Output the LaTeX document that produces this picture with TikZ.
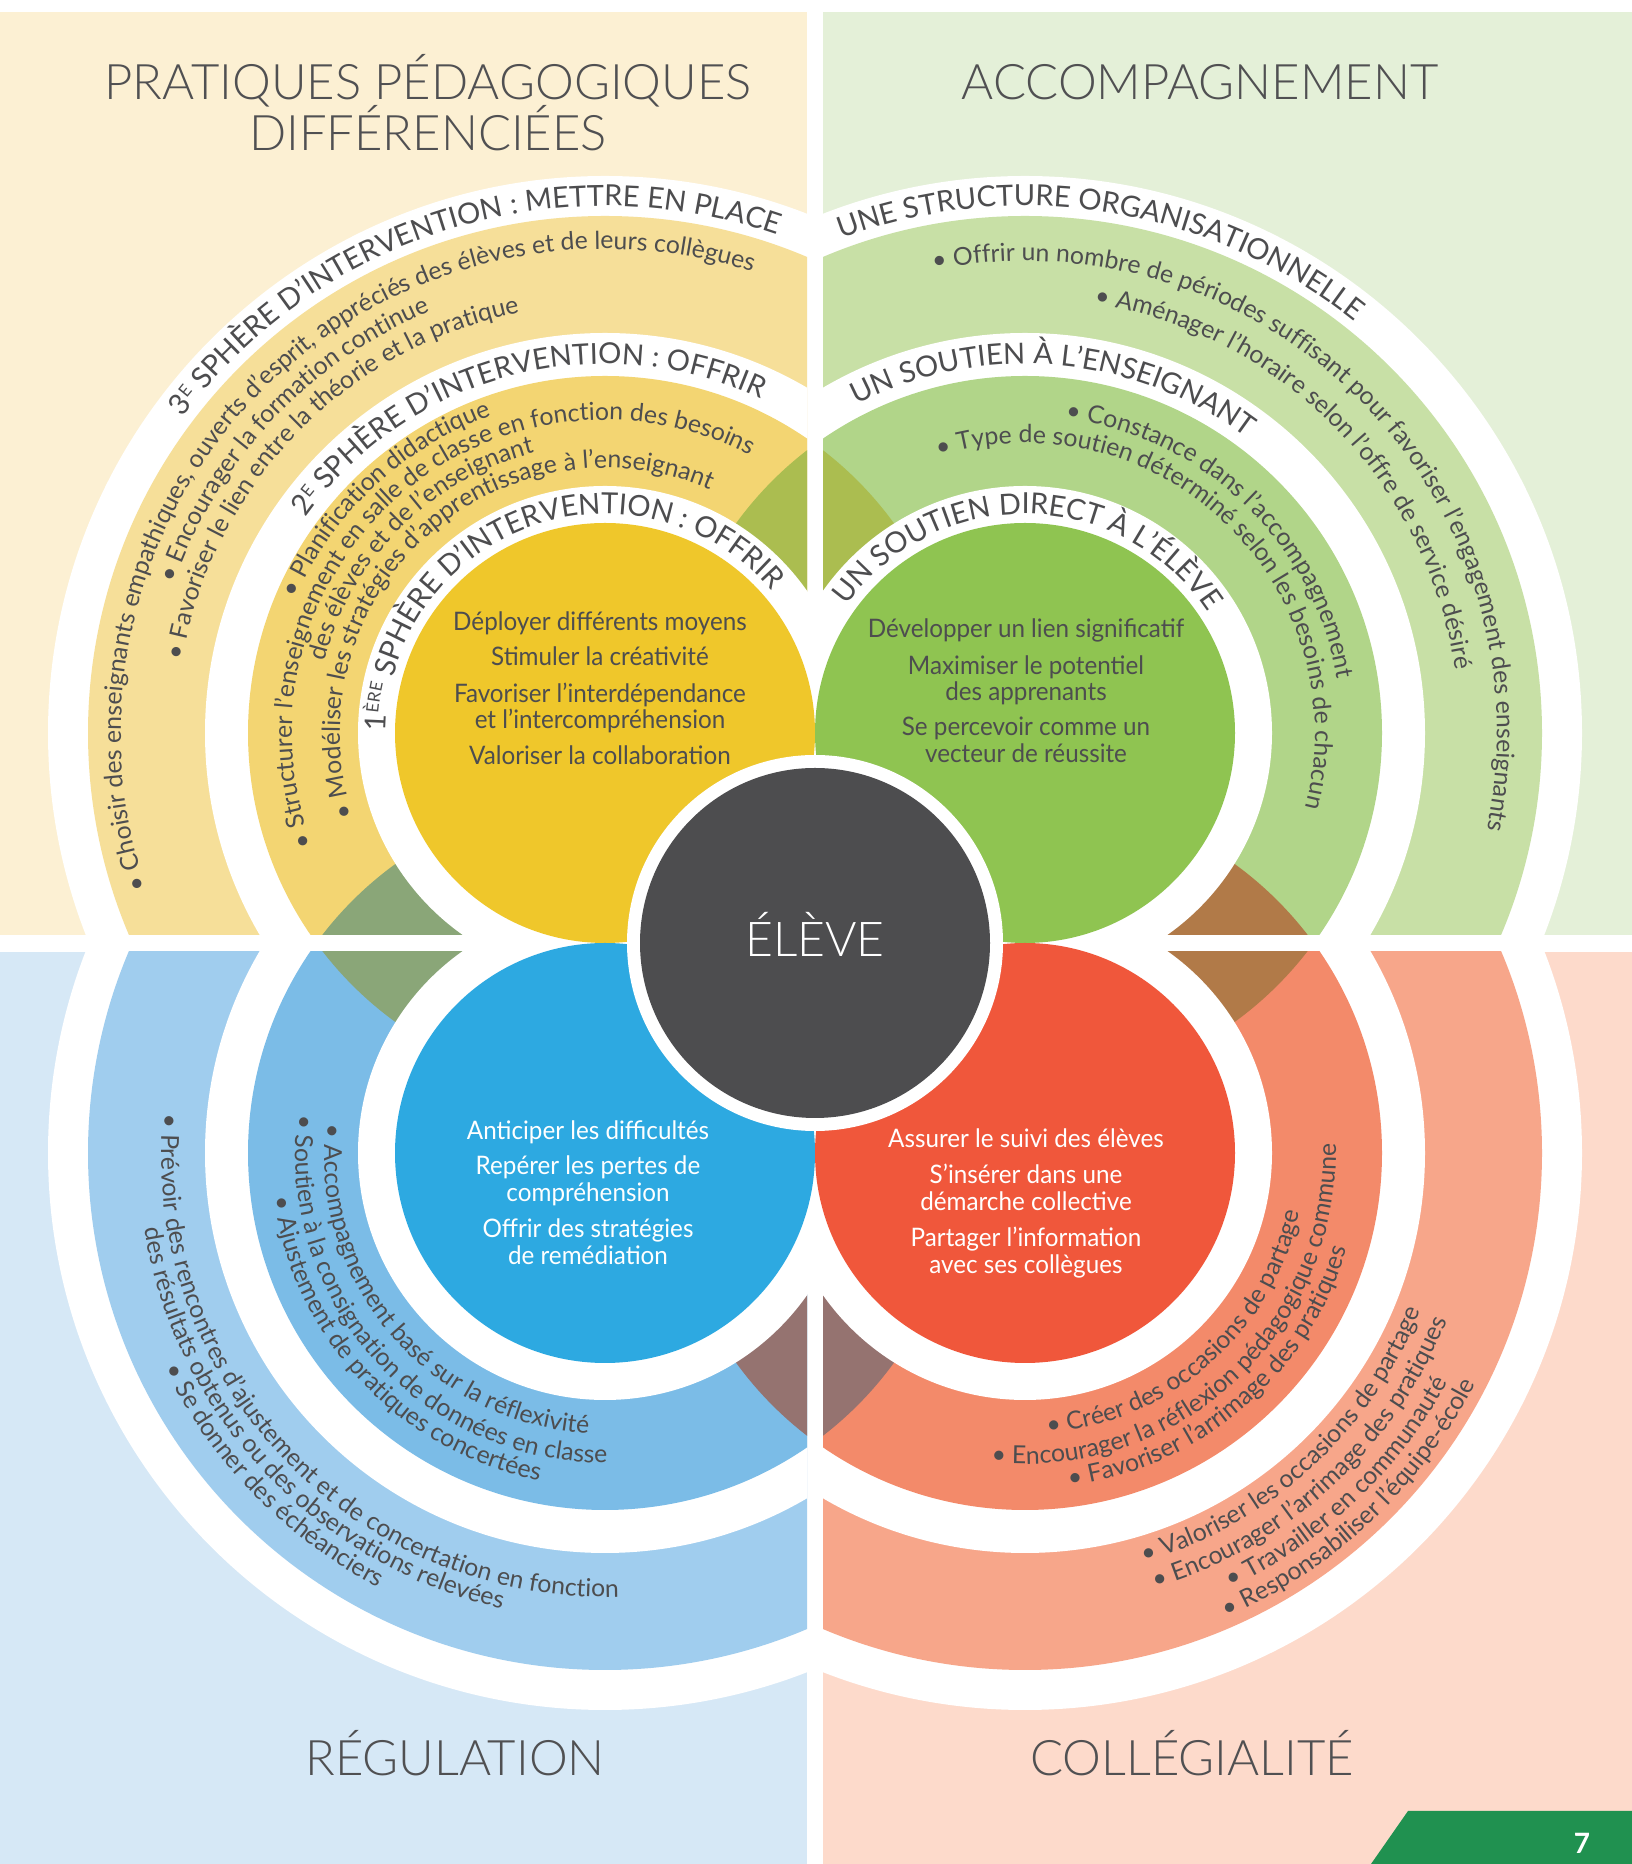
\documentclass[tikz,border=0pt]{standalone}
\usepackage{fontspec}
\setmainfont{Lato}
\newfontfamily\lightfont{Lato Light}
\newfontfamily\condfont{Lato}[FakeStretch=0.95]
\usetikzlibrary{decorations.text,calc}
\definecolor{tlbg}{HTML}{FCF0D3}
\definecolor{tlthree}{HTML}{F6DF99}
\definecolor{tltwo}{HTML}{F3D572}
\definecolor{tlc}{HTML}{EFC72B}
\definecolor{trbg}{HTML}{E4F0D8}
\definecolor{trthree}{HTML}{C8E0A6}
\definecolor{trtwo}{HTML}{B1D589}
\definecolor{trc}{HTML}{8FC451}
\definecolor{blbg}{HTML}{D6E8F6}
\definecolor{blthree}{HTML}{A0CDEE}
\definecolor{bltwo}{HTML}{7BBCE7}
\definecolor{blc}{HTML}{2DA9E1}
\definecolor{brbg}{HTML}{FDDACB}
\definecolor{brthree}{HTML}{F7A68A}
\definecolor{brtwo}{HTML}{F38A6A}
\definecolor{brc}{HTML}{F0573B}
\definecolor{lensT}{HTML}{ABBD50}
\definecolor{lensL}{HTML}{8AA678}
\definecolor{lensR}{HTML}{B17A48}
\definecolor{lensB}{HTML}{957370}
\definecolor{dark}{HTML}{4D4D4F}
\definecolor{txt}{HTML}{4D4D4F}
\definecolor{ttl}{HTML}{505052}
\definecolor{tabgreen}{HTML}{209150}
\newcommand\sm{\fontsize{17}{17}\selectfont\color{txt}}
\newcommand\nm{\fontsize{29}{29}\selectfont\color{txt}}
\newlength\wdig
\newlength\wE
\newlength\wERE
\newlength\wsum
% clockwise arc text (letters outward)
\newcommand\cwtext[5]{%
  \pgfmathsetmacro\angA{#3+85}%
  \pgfmathsetmacro\angB{#3-85}%
  \path[color=txt,decorate,decoration={text along path,text align=center,
    text={|\fontsize{#4}{#4}\selectfont\color{txt}|#5}}]
    ($(#1)+(\angA:#2pt)$) arc[start angle=\angA,end angle=\angB,radius=#2pt];}
% counter-clockwise arc text (letters inward)
\newcommand\ccwtext[5]{%
  \pgfmathsetmacro\angA{#3-85}%
  \pgfmathsetmacro\angB{#3+85}%
  \path[color=txt,decorate,decoration={text along path,text align=center,
    text={|\fontsize{#4}{#4}\selectfont\color{txt}|#5}}]
    ($(#1)+(\angA:#2pt)$) arc[start angle=\angA,end angle=\angB,radius=#2pt];}
% sphere title: #1 centre #2 radius #3 start angle #4 first #5 raised #6 rest #7 width first #8 width raised
\newcommand\sphtext[8]{%
  \setlength\wsum{#7}\addtolength\wsum{#8}%
  \pgfmathsetmacro\angE{#3-deg(#7/#2)}%
  \pgfmathsetmacro\angR{#3-deg(\wsum/#2)}%
  \pgfmathsetmacro\angB{#3-170}%
  \path[color=txt,decorate,decoration={text along path,
    text={|\nm|#4}}] ($(#1)+(#3:#2pt)$) arc[start angle=#3,end angle=\angB,radius=#2pt];
  \path[color=txt,decorate,decoration={text along path,raise=8.6pt,
    text={|\sm|#5}}] ($(#1)+(\angE:#2pt)$) arc[start angle=\angE,end angle=\angB,radius=#2pt];
  \path[color=txt,decorate,decoration={text along path,
    text={|\nm|#6}}] ($(#1)+(\angR:#2pt)$) arc[start angle=\angR,end angle=\angB,radius=#2pt];}
\newcommand\drawquad[9]{%
  \begin{scope}
    \clip #1;
    \fill[#3] #1;
    \fill[white] (#2) circle (557pt);
    \fill[#4] (#2) circle (517pt);
    \fill[white] (#2) circle (400pt);
    \fill[#5] (#2) circle (357pt);
    \begin{scope}\clip (#6) circle (357pt); \fill[#7] (#2) circle (357pt);\end{scope}
    \begin{scope}\clip (#8) circle (357pt); \fill[#9] (#2) circle (357pt);\end{scope}
  \end{scope}}
\tikzset{
  inner/.style={anchor=base,inner sep=0pt,font=\condfont\fontsize{25.5}{25.5}\selectfont},
  qtitle/.style={anchor=base,inner sep=0pt,text=ttl,font=\lightfont\fontsize{49}{49}\selectfont},
}
\begin{document}
\settowidth\wdig{\fontsize{29}{29}\selectfont 3}%
\settowidth\wE{\fontsize{17}{17}\selectfont E}%
\settowidth\wERE{\fontsize{17}{17}\selectfont ÈRE}%
\begin{tikzpicture}[x=1pt,y=1pt]
\useasboundingbox (0,0) rectangle (1632,1864);
\fill[white] (0,0) rectangle (1632,1864);
\coordinate (TL) at (605,1131);
\coordinate (TR) at (1025,1131);
\coordinate (BL) at (605,711);
\coordinate (BR) at (1025,711);
\coordinate (C) at (815,921);

\drawquad{(0,929) rectangle (807,1852)}{TL}{tlbg}{tlthree}{tltwo}{TR}{lensT}{BL}{lensL}
\drawquad{(823,929) rectangle (1632,1852)}{TR}{trbg}{trthree}{trtwo}{TL}{lensT}{BR}{lensR}
\drawquad{(0,0) rectangle (807,912)}{BL}{blbg}{blthree}{bltwo}{BR}{lensB}{TL}{lensL}
\drawquad{(823,0) rectangle (1632,912)}{BR}{brbg}{brthree}{brtwo}{BL}{lensB}{TR}{lensR}

\foreach \c in {TL,TR,BL,BR} \fill[white] (\c) circle (247pt);
\fill[tlc] (TL) circle (210pt);
\fill[trc] (TR) circle (210pt);
\fill[blc] (BL) circle (210pt);
\fill[brc] (BR) circle (210pt);
\fill[white] (C) circle (188pt);
\fill[dark] (C) circle (175pt);
\node[anchor=base,inner sep=0pt,text=white,font=\lightfont\fontsize{48}{48}\selectfont] (eleve) at (815,907) {ÉLÈVE};

% page tab
\fill[tabgreen] (1371,0) -- (1408,53) -- (1632,53) -- (1632,0) -- cycle;
\node[text=white,font=\bfseries\fontsize{28}{28}\selectfont] (page) at (1582,21) {7};

% quadrant titles
\node[qtitle] (t1a) at (428,1764) {PRATIQUES PÉDAGOGIQUES};
\node[qtitle] (t1b) at (428,1713) {DIFFÉRENCIÉES};
\node[qtitle] (t2) at (1200,1764) {ACCOMPAGNEMENT};
\node[qtitle] (t3) at (455,88) {RÉGULATION};
\node[qtitle] (t4) at (1192,88) {COLLÉGIALITÉ};

% inner circle texts
\node[inner,text=txt] (a1) at (600,1233) {Déployer différents moyens};
\node[inner,text=txt] (a2) at (600,1198) {Stimuler la créativité};
\node[inner,text=txt] (a3) at (600,1161) {Favoriser l’interdépendance};
\node[inner,text=txt] (a4) at (600,1135) {et l’intercompréhension};
\node[inner,text=txt] (a5) at (600,1099) {Valoriser la collaboration};

\node[inner,text=txt] (b1) at (1026,1226) {Développer un lien significatif};
\node[inner,text=txt] (b2) at (1026,1189) {Maximiser le potentiel};
\node[inner,text=txt] (b3) at (1026,1163) {des apprenants};
\node[inner,text=txt] (b4) at (1026,1128) {Se percevoir comme un};
\node[inner,text=txt] (b5) at (1026,1101) {vecteur de réussite};

\node[inner,text=white] (c1) at (588,724) {Anticiper les difficultés};
\node[inner,text=white] (c2) at (588,689) {Repérer les pertes de};
\node[inner,text=white] (c3) at (588,662) {compréhension};
\node[inner,text=white] (c4) at (588,626) {Offrir des stratégies};
\node[inner,text=white] (c5) at (588,599) {de remédiation};

\node[inner,text=white] (d1) at (1026,716) {Assurer le suivi des élèves};
\node[inner,text=white] (d2) at (1026,680) {S’insérer dans une};
\node[inner,text=white] (d3) at (1026,653) {démarche collective};
\node[inner,text=white] (d4) at (1026,617) {Partager l’information};
\node[inner,text=white] (d5) at (1026,590) {avec ses collègues};

% TL curved texts
\sphtext{TL}{527}{143.2}{3}{E}{ SPHÈRE D’INTERVENTION : METTRE EN PLACE}{\wdig}{\wE}
\cwtext{TL}{484}{135.5}{24.8}{• Choisir des enseignants empathiques, ouverts d’esprit, appréciés des élèves et de leurs collègues}
\cwtext{TL}{456}{136.7}{24.8}{• Encourager la formation continue}
\cwtext{TL}{429}{135.9}{24.8}{• Favoriser le lien entre la théorie et la pratique}
\sphtext{TL}{369}{144.3}{2}{E}{ SPHÈRE D’INTERVENTION : OFFRIR}{\wdig}{\wE}
\cwtext{TL}{337}{133.1}{24.8}{• Planification didactique}
\cwtext{TL}{313}{131.75}{24.8}{• Structurer l’enseignement en salle de classe en fonction des besoins}
\cwtext{TL}{289}{134.9}{24.8}{des élèves et de l’enseignant}
\cwtext{TL}{265}{132.5}{24.8}{• Modéliser les stratégies d’apprentissage à l’enseignant}
\sphtext{TL}{219}{179.5}{1}{ÈRE}{ SPHÈRE D’INTERVENTION : OFFRIR}{\wdig}{\wERE}

% TR curved texts
\cwtext{TR}{527}{80.85}{29}{UNE STRUCTURE ORGANISATIONNELLE}
\cwtext{TR}{472}{44.65}{24.8}{• Offrir un nombre de périodes suffisant pour favoriser l’engagement des enseignants}
\cwtext{TR}{435}{44.6}{24.8}{• Aménager l’horaire selon l’offre de service désiré}
\cwtext{TR}{369}{85.1}{29}{UN SOUTIEN À L’ENSEIGNANT}
\cwtext{TR}{317}{46.25}{24.8}{• Constance dans l’accompagnement}
\cwtext{TR}{290}{46.25}{24.8}{• Type de soutien déterminé selon les besoins de chacun}
\cwtext{TR}{219}{88.95}{29}{UN SOUTIEN DIRECT À L’ÉLÈVE}

% BL curved texts
\ccwtext{BL}{444}{223.3}{24.8}{• Prévoir des rencontres d’ajustement et de concertation en fonction}
\ccwtext{BL}{467}{223.3}{24.8}{des résultats obtenus ou des observations relevées}
\ccwtext{BL}{490}{224.3}{24.8}{• Se donner des échéanciers}
\ccwtext{BL}{281}{220.35}{24.8}{• Accompagnement basé sur la réflexivité}
\ccwtext{BL}{310}{221.6}{24.8}{• Soutien à la consignation de données en classe}
\ccwtext{BL}{334}{223.2}{24.8}{• Ajustement de pratiques concertées}

% BR curved texts
\ccwtext{BR}{281}{311.2}{24.8}{• Créer des occasions de partage}
\ccwtext{BR}{311}{312.75}{24.8}{• Encourager la réflexion pédagogique commune}
\ccwtext{BR}{336}{310.5}{24.8}{• Favoriser l’arrimage des pratiques}
\ccwtext{BR}{426}{312.25}{24.8}{• Valoriser les occasions de partage}
\ccwtext{BR}{454}{312.5}{24.8}{• Encourager l’arrimage des pratiques}
\ccwtext{BR}{481}{313.4}{24.8}{• Travailler en communauté}
\ccwtext{BR}{506}{313.2}{24.8}{• Responsabiliser l’équipe-école}
\end{tikzpicture}
\end{document}
